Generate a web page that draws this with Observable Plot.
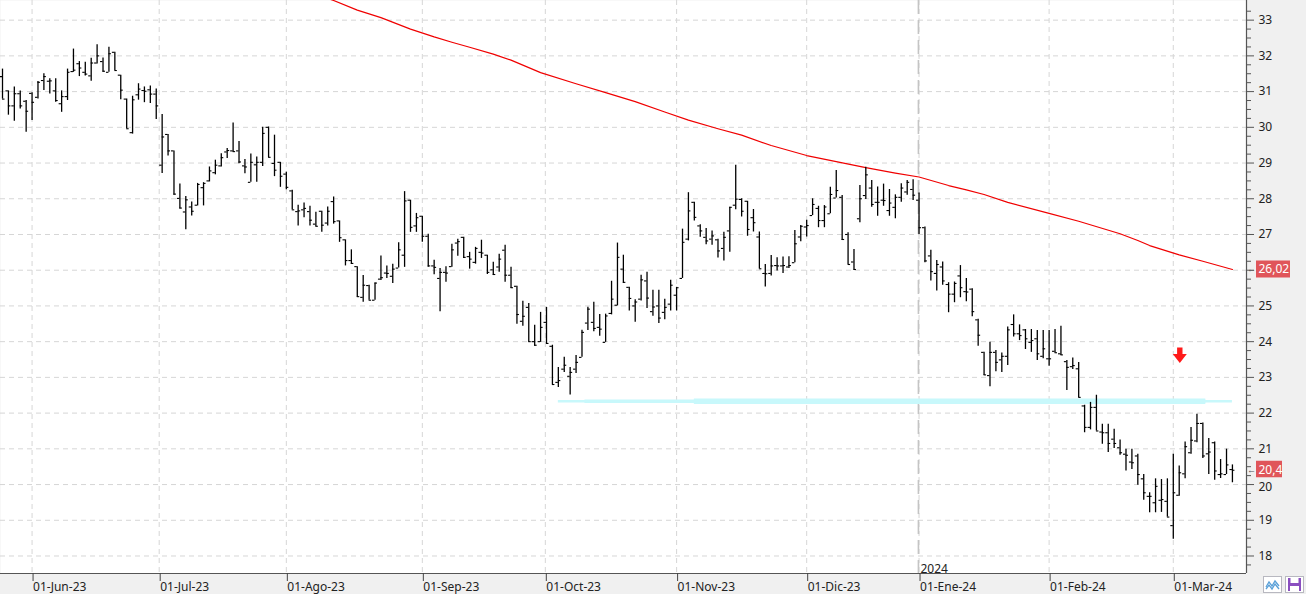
<!DOCTYPE html>
<html>
<head>
<meta charset="utf-8">
<script src="https://cdn.jsdelivr.net/npm/d3@7"></script>
<script src="https://cdn.jsdelivr.net/npm/@observablehq/plot@0.6"></script>
<style>
  html, body { margin: 0; padding: 0; background: #f0f0f0; }
  #wrap { position: relative; width: 1306px; height: 594px; overflow: hidden; }
  .btn { position: absolute; top: 576px; width: 19px; height: 17px; box-sizing: border-box; border: 1px solid #b8b8c0; background: #fff; }
</style>
</head>
<body>
<div id="wrap"></div>
<script>
// ---- Daily OHLC (bar index 0 = last week of May 2023, 208 = mid-March 2024) ----
const open = [31.42,31.02,30.60,30.94,30.73,30.95,30.84,31.31,31.29,31.02,
30.66,30.86,31.56,31.78,31.54,31.44,31.80,31.84,31.54,32.10,
31.46,30.79,29.85,30.91,31.03,31.05,30.93,28.94,29.80,29.34,
28.01,27.63,27.77,27.82,28.31,28.50,28.73,28.92,29.31,29.34,
29.34,28.92,28.46,28.95,29.02,30.00,28.99,29.02,28.69,28.22,
27.64,27.69,27.64,27.29,27.65,27.32,27.92,27.38,26.85,26.27,
26.10,25.24,25.57,25.16,25.75,25.92,25.83,26.06,26.42,27.96,
27.24,27.51,26.95,26.12,25.77,25.94,26.10,26.76,26.92,26.38,
26.22,26.50,26.42,26.01,26.09,26.56,25.86,25.55,24.57,24.96,
24.00,24.00,24.54,23.87,22.86,23.23,23.03,23.23,23.56,24.52,
24.54,24.40,23.98,24.79,25.02,26.03,25.52,25.00,25.19,25.70,
24.84,25.00,24.82,25.05,25.30,25.77,26.87,27.90,27.24,26.92,
26.87,26.85,26.61,27.10,27.82,27.98,27.93,27.47,26.93,25.91,
25.91,26.13,26.12,26.09,26.21,26.93,27.21,27.53,27.73,27.39,
27.58,28.02,28.04,27.00,26.23,27.44,28.09,28.30,27.90,27.96,
27.67,27.76,28.04,28.19,28.26,27.96,27.19,26.40,25.91,26.09,
25.60,25.33,25.84,25.40,25.47,24.61,23.70,23.05,23.70,23.49,
23.59,24.48,24.22,24.33,23.98,24.08,23.59,23.52,23.73,23.66,
23.44,23.30,23.24,22.20,21.60,22.16,21.47,21.45,21.27,21.03,
20.85,20.63,20.80,20.16,19.67,19.49,19.56,19.53,18.85,19.70,
20.30,20.89,21.22,21.71,20.86,21.17,20.28,20.28,20.42];

const high = [31.63,31.02,31.13,31.02,30.75,30.97,31.28,31.50,31.36,31.36,
31.02,31.63,32.19,31.84,31.82,31.93,32.31,31.94,32.24,32.10,
31.46,30.79,30.87,31.22,31.13,31.16,31.07,30.36,29.80,29.34,
28.41,28.06,27.91,28.43,28.45,28.89,29.08,29.26,29.41,30.12,
29.60,29.10,29.25,29.17,30.00,30.01,29.78,29.02,28.74,28.24,
27.82,27.88,27.79,27.62,27.65,27.77,28.05,27.38,26.85,26.57,
26.10,25.85,25.58,25.64,26.40,26.12,26.17,26.77,28.20,27.96,
27.59,27.51,27.01,26.28,26.05,26.10,26.73,26.87,26.92,26.50,
26.64,26.84,26.42,26.22,26.45,26.70,26.08,25.55,25.13,25.07,
24.46,24.82,24.96,23.90,23.28,23.56,23.28,23.61,24.32,24.96,
25.10,24.76,24.77,25.69,26.76,26.42,25.52,25.17,25.86,25.94,
25.44,25.44,25.19,25.72,25.52,27.15,28.17,27.90,27.27,27.17,
27.10,26.87,27.06,27.76,28.94,28.00,27.93,27.70,27.07,26.16,
26.41,26.35,26.37,26.38,27.11,27.25,27.40,28.00,27.79,27.81,
28.32,28.79,28.09,27.05,26.58,28.37,28.88,28.51,28.33,28.41,
28.26,28.11,28.42,28.51,28.53,28.16,27.21,26.56,26.27,26.23,
25.65,25.67,26.13,25.77,25.48,24.63,23.70,23.98,23.75,23.68,
24.41,24.75,24.47,24.34,24.34,24.31,24.31,24.31,24.34,24.43,
23.47,23.54,23.42,22.22,22.30,22.50,21.69,21.69,21.55,21.25,
20.99,20.99,20.85,20.28,19.77,20.16,20.14,20.16,20.85,20.52,
21.19,21.60,21.97,21.72,21.29,21.19,20.70,20.99,20.55];

const low = [30.79,30.34,30.17,30.51,29.86,30.19,30.79,31.03,30.93,30.70,
30.42,30.75,31.54,31.42,31.44,31.29,31.77,31.54,31.54,31.59,
30.77,29.96,29.81,30.76,30.69,30.67,30.22,28.71,29.20,28.10,
27.71,27.13,27.52,27.80,27.80,28.47,28.67,28.89,29.13,29.31,
28.98,28.70,28.46,28.46,28.90,29.15,28.62,28.32,28.25,27.69,
27.24,27.47,27.24,27.22,27.06,27.24,27.29,26.78,26.12,26.16,
25.24,25.10,25.16,25.16,25.71,25.77,25.63,26.06,26.08,27.06,
27.06,26.78,26.08,25.87,24.84,25.66,26.08,26.39,26.33,26.03,
26.17,26.33,25.88,25.85,25.94,25.66,25.49,24.49,24.43,23.98,
23.87,23.98,23.93,22.79,22.72,23.14,22.51,23.11,23.56,24.31,
24.28,24.15,23.98,24.75,25.00,25.63,24.86,24.54,25.14,24.93,
24.71,24.51,24.61,24.86,24.86,25.77,26.82,27.38,26.92,26.71,
26.70,26.34,26.26,26.50,27.69,27.49,26.95,27.07,26.04,25.53,
25.84,25.98,25.91,26.05,26.21,26.80,26.93,27.53,27.19,27.19,
27.58,28.02,26.83,26.16,26.00,27.33,27.98,27.76,27.51,27.79,
27.51,27.44,27.90,28.10,27.95,27.00,26.21,25.70,25.42,25.58,
24.81,25.09,25.23,25.12,24.70,23.87,23.05,22.74,23.16,23.14,
23.33,24.13,24.03,23.78,23.70,23.47,23.52,23.31,23.68,23.61,
22.63,23.22,22.44,21.45,21.53,21.50,21.13,20.90,21.01,20.82,
20.38,20.42,19.98,19.56,19.21,19.21,19.22,19.09,18.47,19.67,
20.16,20.85,21.17,20.73,20.28,20.12,20.17,20.28,20.05];

const close = [30.79,30.60,30.94,30.60,30.45,30.70,31.26,31.42,31.30,30.75,
30.86,31.54,31.60,31.66,31.49,31.80,32.00,31.57,32.06,31.59,
31.04,29.96,30.77,31.07,31.01,30.93,30.60,29.73,29.34,28.13,
27.74,27.97,27.65,28.40,28.43,28.78,28.94,29.15,29.35,29.32,
29.03,28.89,29.02,29.02,29.83,29.16,28.80,28.63,28.32,27.69,
27.66,27.73,27.40,27.23,27.26,27.65,27.36,26.91,26.27,26.19,
25.26,25.58,25.16,25.64,25.79,25.91,26.03,26.57,27.94,27.20,
27.47,26.95,26.12,26.08,25.94,25.92,26.57,26.80,26.36,26.31,
26.61,26.48,25.94,25.88,26.31,25.86,25.51,24.76,24.71,24.00,
23.90,24.40,23.95,22.80,22.91,23.34,23.14,23.42,24.26,24.91,
24.37,24.35,24.72,25.19,26.36,25.66,25.21,25.11,25.73,25.22,
24.97,24.66,24.96,25.58,25.51,26.78,27.66,27.48,27.10,26.82,
26.96,26.54,26.92,27.76,27.99,27.65,27.14,27.33,26.04,25.90,
26.12,26.12,26.13,26.13,26.74,27.23,27.25,27.84,27.39,27.77,
28.12,28.23,26.86,26.16,26.02,28.00,28.67,27.84,27.90,27.95,
27.88,28.04,28.30,28.46,28.10,27.19,26.26,25.96,26.16,25.70,
25.33,25.63,25.51,25.39,24.84,24.18,23.07,23.70,23.42,23.59,
24.33,24.22,24.17,24.08,24.03,23.66,23.80,23.52,23.69,23.63,
23.28,23.33,22.44,21.60,22.16,21.50,21.45,21.15,21.15,20.89,
20.82,20.61,20.28,19.77,19.67,19.95,19.58,19.09,19.77,20.33,
21.06,21.24,21.71,20.80,20.91,20.38,20.30,20.55,20.40];

// ---- Moving average (red) : bar index / value ----
const maIdx = [53,56,60,64,69,73,76,79,83,86,91,97,102,107,112,116,121,125,130,136,141,146,151,155,160,163,166,170,177,182,189,192,194,199,203,208];
const maVal = [33.72,33.55,33.28,33.07,32.75,32.53,32.38,32.24,32.05,31.88,31.53,31.22,30.97,30.72,30.43,30.20,29.96,29.78,29.49,29.21,29.04,28.87,28.72,28.61,28.37,28.25,28.12,27.90,27.59,27.37,27.02,26.83,26.69,26.43,26.25,26.02];

// ---- Support level (cyan) ----
const supportLevel = 22.33;
const supportStart = 94, supportEnd = 208;

// ---- Signal arrow ----
const signalIdx = 199.1, signalLevel = 23.61;

// ---- Axes ----
const monthIdx = [5, 26.5, 48, 71, 91.8, 114, 136, 155, 177, 198];
const monthLabels = ["01-Jun-23","01-Jul-23","01-Ago-23","01-Sep-23","01-Oct-23","01-Nov-23","01-Dic-23","01-Ene-24","01-Feb-24","01-Mar-24"];
const yearIdx = 154.9, yearLabel = "2024";
const yTicks = [18,19,20,21,22,23,24,25,26,27,28,29,30,31,32,33];

const xDomain = [-0.338, 210.38];
const yDomain = [17.51, 33.55];
const xEdge = xDomain[1];

const bars = open.map((o, i) => ({i, open: o, high: high[i], low: low[i], close: close[i]}));
const ma = maIdx.map((i, k) => ({i, v: maVal[k]}));
const minorTicks = d3.range(17.75, 33.5, 0.25).filter(v => Math.abs(v - Math.round(v)) > 1e-6);
const fmt = v => String(v).replace(".", ",");
const maLast = maVal[maVal.length - 1];
const closeLast = close[close.length - 1];
// a tick label hidden behind the last-value box is not shown
const hiddenTick = d => Math.abs(d - maLast) < 0.3 || Math.abs(d - closeLast) < 0.3;
// tick labels just below a last-value box sit slightly lower so they stay readable
const nearBox = d => !hiddenTick(d) && (Math.abs(d - closeLast) < 0.6 || Math.abs(d - maLast) < 0.6);

const arrowDown = {
  draw(ctx) {
    ctx.moveTo(-2.7, -8); ctx.lineTo(2.7, -8); ctx.lineTo(2.7, -1.5);
    ctx.lineTo(7, -1.5); ctx.lineTo(0, 7.5); ctx.lineTo(-7, -1.5);
    ctx.lineTo(-2.7, -1.5); ctx.closePath();
  }
};

const gridStyle = {stroke: "#d6d6d6", strokeDasharray: "5,4", strokeWidth: 1};

const chart = Plot.plot({
  width: 1306, height: 594,
  marginTop: 0, marginLeft: 0, marginRight: 60, marginBottom: 21,
  x: {domain: xDomain},
  y: {domain: yDomain},
  style: {fontFamily: "'Noto Sans', 'Liberation Sans', sans-serif", fontSize: "12px", background: "#f0f0f0", color: "#222", overflow: "visible"},
  marks: [
    Plot.frame({fill: "white", stroke: null}),
    Plot.ruleY(yTicks, gridStyle),
    Plot.ruleX(monthIdx, gridStyle),
    Plot.ruleX([yearIdx], {stroke: "#c4c4c4", strokeWidth: 1.6, strokeDasharray: "14,6"}),
    // support band
    Plot.ruleY([supportLevel], {x1: () => supportStart, x2: () => supportEnd, stroke: "#c8f8fb", strokeWidth: 2.5}),
    Plot.ruleY([supportLevel], {x1: () => supportStart + 4.5, x2: () => supportEnd - 4.5, stroke: "#c8f8fb", strokeWidth: 3.5}),
    Plot.ruleY([supportLevel], {x1: () => supportStart + 23, x2: () => supportEnd - 4.5, stroke: "#c8f8fb", strokeWidth: 5.5}),
    // moving average
    Plot.line(ma, {x: "i", y: "v", stroke: "#f00000", strokeWidth: 1.2, clip: true}),
    // OHLC bars
    Plot.ruleX(bars, {x: "i", y1: "low", y2: "high", stroke: "#000", strokeWidth: 1.3, clip: true}),
    Plot.ruleY(bars, {y: "open", x1: d => d.i - 0.42, x2: "i", stroke: "#000", strokeWidth: 1.1, clip: true}),
    Plot.ruleY(bars, {y: "close", x1: "i", x2: d => d.i + 0.42, stroke: "#000", strokeWidth: 1.1, clip: true}),
    // signal arrow
    Plot.dot([{i: signalIdx, v: signalLevel}], {x: "i", y: "v", symbol: arrowDown, r: 8, fill: "#ff1a1a", stroke: null}),
    // axis lines
    Plot.ruleY([yDomain[0]], {stroke: "#555", strokeWidth: 1.2}),
    Plot.ruleX([xEdge], {stroke: "#555", strokeWidth: 1.2}),
    // right axis: tick marks
    Plot.axisY({anchor: "right", ticks: yTicks, tickSize: 7, tickFormat: () => "", label: null, stroke: "#555"}),
    Plot.axisY({anchor: "right", ticks: minorTicks, tickSize: 4, tickFormat: () => "", label: null, stroke: "#555"}),
    // right axis: labels
    Plot.text(yTicks.filter(d => !hiddenTick(d) && !nearBox(d)), {x: () => xEdge, y: d => d, text: d => String(d), dx: 12, textAnchor: "start", fill: "#222", fontSize: 12}),
    Plot.text(yTicks.filter(nearBox), {x: () => xEdge, y: d => d, text: d => String(d), dx: 12, dy: 3, textAnchor: "start", fill: "#222", fontSize: 12}),
    // bottom axis
    Plot.axisX({anchor: "bottom", ticks: monthIdx, tickSize: 8, tickPadding: 1, textAnchor: "start", dx: 1,
      tickFormat: d => monthLabels[monthIdx.indexOf(d)], label: null, stroke: "#444", fill: "#222", fontSize: 12}),
    Plot.text([yearLabel], {x: () => yearIdx, frameAnchor: "bottom", textAnchor: "start", lineAnchor: "bottom", dx: 2, dy: -1, fill: "#222", fontSize: 12}),
    // last-value labels
    Plot.rect([maLast], {x1: () => xEdge, x2: () => xEdge, y1: d => d, y2: d => d, insetLeft: 10, insetRight: -44, insetTop: -8.5, insetBottom: -8.5, fill: "#e0555a"}),
    Plot.rect([closeLast], {x1: () => xEdge, x2: () => xEdge, y1: d => d, y2: d => d, insetLeft: 10, insetRight: -36, insetTop: -9, insetBottom: -7.5, fill: "#e0555a"}),
    Plot.text([maLast, closeLast], {x: () => xEdge, y: d => d, text: d => fmt(d), dx: 12, dy: -0.5, textAnchor: "start", fill: "white", fontSize: 12}),
    Plot.text([maLast, closeLast], {x: () => xEdge, y: d => d, text: () => "←", dx: 5, textAnchor: "middle", fill: "#555", fontSize: 9})
  ]
});

const wrap = document.getElementById("wrap");
wrap.appendChild(chart);

// small toolbar buttons (decoration)
const b1 = document.createElement("div");
b1.className = "btn"; b1.style.left = "1263px";
b1.innerHTML = '<svg width="17" height="15"><polyline points="2,10 5,5 8,9 11,4 15,9" fill="none" stroke="#5aa0d8" stroke-width="1.3"/><polyline points="2,12 5,8 8,12 11,7 15,12" fill="none" stroke="#5aa0d8" stroke-width="1.3"/></svg>';
const b2 = document.createElement("div");
b2.className = "btn"; b2.style.left = "1285px";
b2.innerHTML = '<svg width="17" height="15"><rect x="2" y="1" width="13" height="13" fill="#8a4fc0"/><rect x="4.5" y="1" width="8" height="5" fill="#fff"/><rect x="4" y="9" width="9" height="5" fill="#fff"/></svg>';
wrap.appendChild(b1); wrap.appendChild(b2);
</script>
</body>
</html>
